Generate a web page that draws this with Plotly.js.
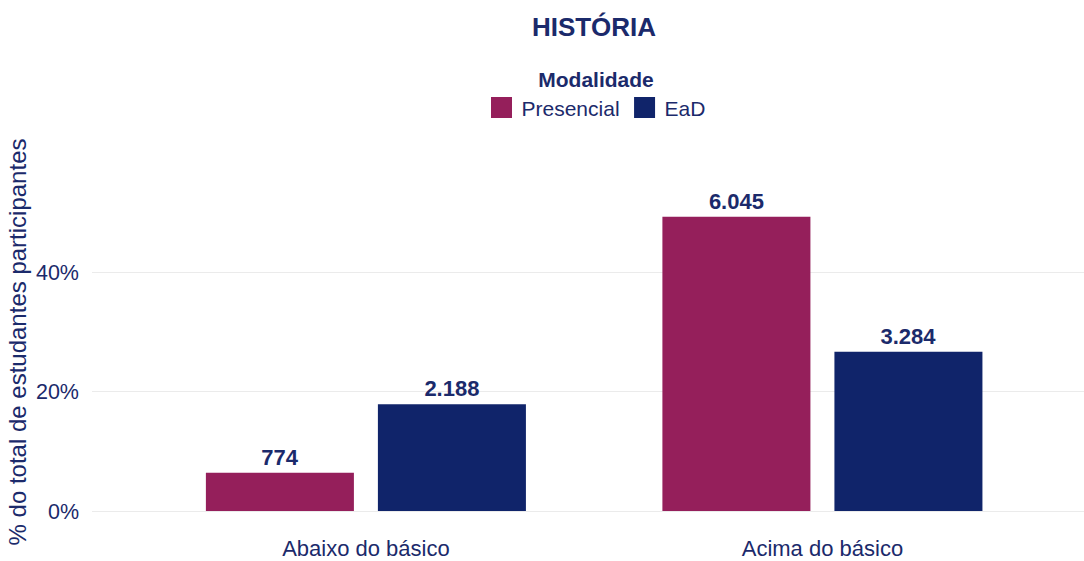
<!DOCTYPE html>
<html>
<head>
<meta charset="utf-8">
<script src="https://cdn.plot.ly/plotly-3.0.1.min.js"></script>
<style>html,body{margin:0;padding:0;background:#fff;}#chart{width:1084px;height:561px;}</style>
</head>
<body>
<div id="chart"></div>
<script>
var categorias = ['Abaixo do básico', 'Acima do básico'];
var presencialPct = [6.4, 49.3];
var eadPct = [17.9, 26.7];
var presencialN = ['774', '6.045'];
var eadN = ['2.188', '3.284'];
var yTicks = [0, 20, 40];
var yTickLabels = ['0%', '20%', '40%'];
var seriesNames = ['Presencial', 'EaD'];
var seriesColors = ['#951F5B', '#10246A'];

var textColor = '#1b2a6b';
var fontFam = 'Liberation Sans, Arial, sans-serif';

var barData = [
  {y: presencialPct, text: presencialN},
  {y: eadPct, text: eadN}
];

var traces = [];
barData.forEach(function (s, i) {
  traces.push({
    type: 'bar', name: seriesNames[i], x: categorias, y: s.y,
    text: s.text, textposition: 'outside', cliponaxis: false,
    textfont: {family: fontFam, size: 22, color: textColor, weight: 'bold'},
    marker: {color: seriesColors[i], line: {width: 0}},
    legendgroup: seriesNames[i], showlegend: false,
    hoverinfo: 'skip'
  });
});
// legend entries (square keys like the reference)
seriesNames.forEach(function (n, i) {
  traces.push({
    type: 'scatter', mode: 'markers', name: n, x: [null], y: [null],
    legendgroup: n, showlegend: true,
    marker: {symbol: 'square', size: 16, color: seriesColors[i], line: {width: 5, color: seriesColors[i]}},
    hoverinfo: 'skip'
  });
});

var layout = {
  width: 1084, height: 561,
  paper_bgcolor: '#ffffff', plot_bgcolor: '#ffffff',
  font: {family: fontFam, color: textColor, size: 21},
  margin: {l: 92, r: 0, t: 173, b: 50, pad: 0},
  barmode: 'group', bargap: 0.2464, bargroupgap: 0.1395,
  title: {
    text: '<b>HISTÓRIA</b>', font: {family: fontFam, size: 26, color: textColor},
    x: 594 / 1084, xref: 'container', xanchor: 'center',
    y: 1 - 27 / 561, yref: 'container', yanchor: 'middle'
  },
  showlegend: true,
  legend: {
    orientation: 'h', xref: 'container', yref: 'container',
    x: 596 / 1084, xanchor: 'center', y: 1 - 60 / 561, yanchor: 'top',
    itemsizing: 'trace',
    title: {text: '<b>Modalidade</b>', side: 'top center', font: {family: fontFam, size: 21, color: textColor}},
    font: {family: fontFam, size: 21, color: textColor},
    bgcolor: 'rgba(0,0,0,0)'
  },
  xaxis: {
    type: 'category', range: [-0.6, 1.573], showgrid: false, zeroline: false, showline: false,
    ticks: '', ticklabelstandoff: 22,
    tickfont: {family: fontFam, size: 22, color: textColor}, fixedrange: true
  },
  yaxis: {
    range: [0, 56.64], tickvals: yTicks, ticktext: yTickLabels,
    showgrid: true, gridcolor: '#ebebeb', gridwidth: 1,
    zeroline: true, zerolinecolor: '#ebebeb', zerolinewidth: 1, showline: false,
    ticks: '', ticklabelstandoff: 12,
    tickfont: {family: fontFam, size: 21.5, color: textColor},
    title: {text: '% do total de estudantes participantes', standoff: 2,
            font: {family: fontFam, size: 24, color: textColor}},
    fixedrange: true
  }
};

Plotly.newPlot('chart', traces, layout, {displayModeBar: false, staticPlot: true});
</script>
</body>
</html>
